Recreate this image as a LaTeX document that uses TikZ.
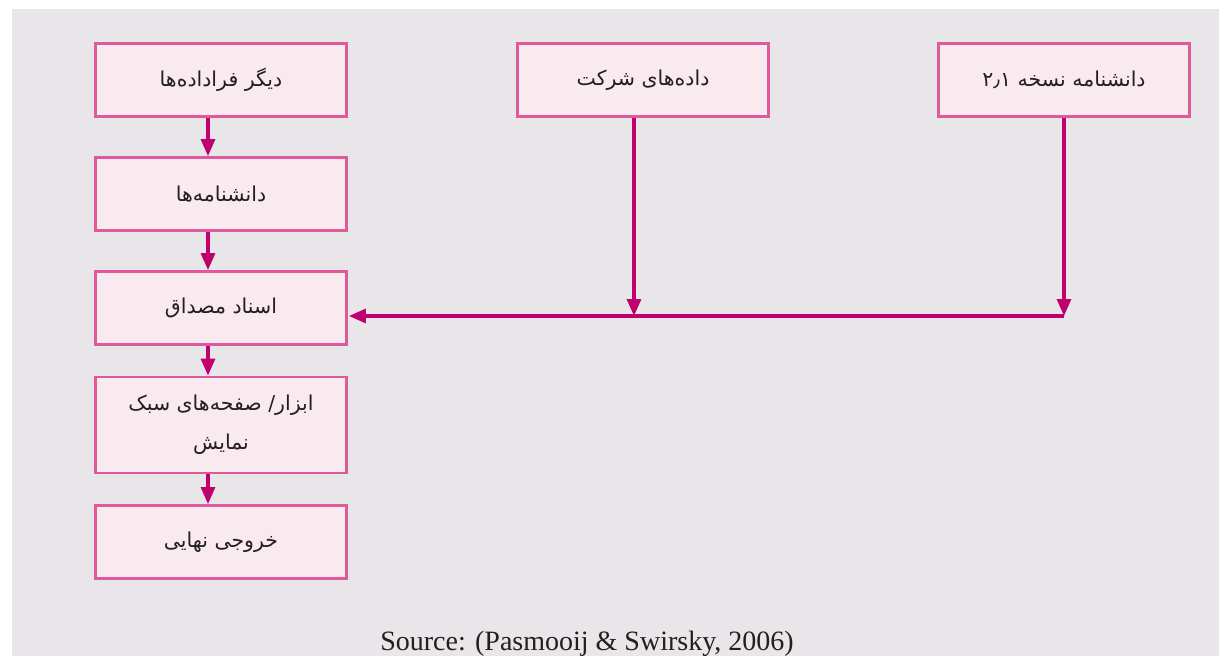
\documentclass[tikz,border=0pt]{standalone}
\usepackage{fontspec}
\setmainfont{Liberation Serif}
\newfontfamily\arabicfont[Script=Arabic]{DejaVu Sans}
\TeXXeTstate=1
\usetikzlibrary{arrows.meta}
\definecolor{bggray}{HTML}{E8E6E9}
\definecolor{boxfill}{HTML}{F9EAF0}
\definecolor{boxline}{HTML}{DF5A9C}
\definecolor{arrowcol}{HTML}{C0006E}
\definecolor{txt}{HTML}{231F20}
\begin{document}
\begin{tikzpicture}[x=1pt,y=-1pt,
  box/.style={draw=boxline, fill=boxfill, line width=2.8pt, minimum width=251pt, minimum height=73pt, inner sep=0pt, font=\arabicfont\fontsize{20.5}{39}\selectfont, text=txt, align=center},
  flow/.style={draw=arrowcol, line width=3.2pt, -{Triangle[length=17pt,width=14pt]}}]
\useasboundingbox (0,0) rectangle (1219,656);
\fill[white] (0,0) rectangle (1219,656);
\fill[bggray] (12,9) rectangle (1219,656);
\node[box] (b1) at (221,80) {\beginR دیگر فراداده^^^^200cها\endR};
\node[box] (b2) at (221,194) {\beginR دانشنامه^^^^200cها\endR};
\node[box] (b3) at (221,308) {\beginR اسناد مصداق\endR};
\node[box, minimum height=96pt] (b4) at (221,425) {\beginR ابزار/ صفحه^^^^200cهای سبک\endR\\\beginR نمایش\endR};
\node[box] (b5) at (221,542) {\beginR خروجی نهایی\endR};
\node[box] (b6) at (643,80) {\beginR داده^^^^200cهای شرکت\endR};
\node[box] (b7) at (1064,80) {\beginR دانشنامه نسخه \beginL ۲٫۱\endL\endR};
\coordinate (j) at (1064,316);
\draw[flow] ([xshift=-13pt]b1.south) -- ([xshift=-13pt]b2.north);
\draw[flow] ([xshift=-13pt]b2.south) -- ([xshift=-13pt]b3.north);
\draw[flow] ([xshift=-13pt]b3.south) -- ([xshift=-13pt]b4.north);
\draw[flow] ([xshift=-13pt]b4.south) -- ([xshift=-13pt]b5.north);
\draw[flow] (b7.south) -- (j);
\draw[flow] ([xshift=-9pt]b6.south) -- ([xshift=-9pt]b6.south |- j);
\draw[flow] (j) -- ([xshift=1pt]b3.east |- j);
\node[font=\fontsize{28}{30}\selectfont, text=txt, anchor=base] (src) at (587,650) {Source: (Pasmooij \& Swirsky, 2006)};
\end{tikzpicture}
\end{document}
